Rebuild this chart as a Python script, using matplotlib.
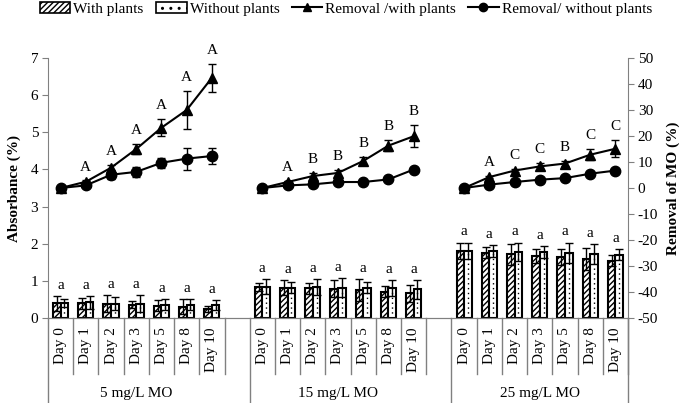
import numpy as np
import matplotlib
matplotlib.use('Agg')
import matplotlib.pyplot as plt
import matplotlib.transforms as mtransforms
from matplotlib.patches import Patch
from matplotlib.lines import Line2D

plt.rcParams['font.family'] = ['Liberation Serif', 'DejaVu Serif']
plt.rcParams['hatch.linewidth'] = 1.0
plt.rcParams['axes.unicode_minus'] = False

days = ['Day 0', 'Day 1', 'Day 2', 'Day 3', 'Day 5', 'Day 8', 'Day 10']
groups = ['5 mg/L MO', '15 mg/L MO', '25 mg/L MO']

# absorbance (left axis)
abs_with = [[0.40, 0.40, 0.39, 0.36, 0.33, 0.30, 0.24],
            [0.84, 0.82, 0.80, 0.79, 0.75, 0.71, 0.66],
            [1.81, 1.76, 1.71, 1.67, 1.65, 1.59, 1.54]]
abs_with_err = [[0.20, 0.15, 0.22, 0.10, 0.15, 0.20, 0.09],
                [0.11, 0.19, 0.15, 0.22, 0.29, 0.14, 0.22],
                [0.22, 0.14, 0.27, 0.18, 0.22, 0.29, 0.15]]
abs_without = [[0.40, 0.42, 0.39, 0.39, 0.36, 0.36, 0.35],
               [0.84, 0.82, 0.83, 0.82, 0.82, 0.81, 0.77],
               [1.81, 1.80, 1.78, 1.78, 1.76, 1.72, 1.70]]
abs_without_err = [[0.10, 0.18, 0.17, 0.22, 0.15, 0.14, 0.13],
                   [0.20, 0.16, 0.22, 0.25, 0.16, 0.22, 0.25],
                   [0.22, 0.16, 0.25, 0.16, 0.27, 0.27, 0.15]]
bar_letters = [['a'] * 7, ['a'] * 7, ['a'] * 7]

# removal of MO (right axis)
rem_with = [[0, 2.4, 7.8, 15.0, 23.2, 30.0, 42.4],
            [0, 2.3, 4.6, 5.8, 10.4, 16.3, 19.9],
            [0, 4.2, 6.7, 8.3, 9.4, 12.8, 15.1]]
rem_with_err = [[0, 0.5, 1.0, 2.0, 3.2, 7.3, 5.3],
                [0, 0.5, 1.2, 1.0, 1.6, 2.0, 4.2],
                [0, 0.5, 0.5, 1.3, 1.0, 2.2, 3.2]]
rem_without = [[0, 1.0, 5.1, 6.2, 9.7, 11.3, 12.3],
               [0, 1.0, 1.4, 2.3, 2.3, 3.3, 7.1],
               [0, 1.3, 2.3, 3.2, 3.8, 5.5, 6.7]]
rem_without_err = [[0, 0.5, 1.6, 2.0, 2.0, 4.2, 3.0],
                   [0, 0.3, 0.5, 0.3, 0.3, 0.3, 0.5],
                   [0, 0.3, 0.3, 0.3, 0.3, 0.3, 0.3]]
rem_letters = [['', 'A', 'A', 'A', 'A', 'A', 'A'],
               ['', 'A', 'B', 'B', 'B', 'B', 'B'],
               ['', 'A', 'C', 'C', 'B', 'C', 'C']]

grey = '#808080'
fs = 11

fig = plt.figure(figsize=(6.85, 4.03), dpi=100)
ax = fig.add_axes([48 / 685, 85 / 403, 580 / 685, 260 / 403])
ax2 = ax.twinx()

nd = len(days)
bw = 0.3
ekw = dict(ecolor='k', elinewidth=1, capsize=3, capthick=1)
for g in range(len(groups)):
    x = np.arange(nd) + g * (nd + 1)
    ax.bar(x - bw / 2, abs_with[g], bw, yerr=abs_with_err[g], facecolor='white',
           edgecolor='k', linewidth=1.5, hatch='//////', error_kw=ekw)
    ax.bar(x + bw / 2, abs_without[g], bw, yerr=abs_without_err[g], facecolor='white',
           edgecolor='k', linewidth=1.5, error_kw=ekw)
    # dotted fill of the "without plants" bars
    ax.vlines(x + bw / 2, 0, abs_without[g], colors='k', linestyles=(0, (1, 2.5)), lw=1)
    for i in range(nd):
        top = max(abs_with[g][i] + abs_with_err[g][i], abs_without[g][i] + abs_without_err[g][i])
        ax.annotate(bar_letters[g][i], (x[i], top), xytext=(0, 3), textcoords='offset points',
                    ha='center', va='bottom', fontsize=fs)

    ax2.errorbar(x, rem_with[g], yerr=rem_with_err[g], fmt='-^', color='k', lw=1.5,
                 ms=7, **ekw)
    ax2.errorbar(x, rem_without[g], yerr=rem_without_err[g], fmt='-o', color='k', lw=1.5,
                 ms=7.5, **ekw)
    for i in range(nd):
        if rem_letters[g][i]:
            top = rem_with[g][i] + rem_with_err[g][i]
            ax2.annotate(rem_letters[g][i], (x[i], top), xytext=(0, 5), textcoords='offset points',
                         ha='center', va='bottom', fontsize=fs)

ax.set_xlim(-0.5, len(groups) * (nd + 1) - 1.5)
ax.set_ylim(0, 7)
ax.set_yticks(range(0, 8))
ax2.set_ylim(-50, 50)
ax2.set_yticks(range(-50, 51, 10))
ax.set_xticks([])

for a in (ax, ax2):
    a.spines['top'].set_visible(False)
    for s in ('left', 'right', 'bottom'):
        a.spines[s].set_color(grey)
    a.tick_params(axis='y', direction='out', length=4, color=grey, labelsize=fs, pad=3)
ax.spines['right'].set_visible(False)
ax2.spines['left'].set_visible(False)

ax.set_ylabel('Absorbance (%)', fontsize=fs, fontweight='bold', labelpad=7)
ax2.set_ylabel('Removal of MO (%)', fontsize=fs, fontweight='bold', labelpad=6)

# multi-level category labels below the axis
trans = mtransforms.blended_transform_factory(ax.transData, ax.transAxes)
for g in range(len(groups)):
    x0 = g * (nd + 1)
    for i in range(nd):
        ax.text(x0 + i, -0.035, days[i], transform=trans, rotation=90,
                ha='center', va='top', fontsize=fs)
        ax.plot([x0 + i + 0.5] * 2, [0, -0.215], transform=trans, color=grey,
                lw=1, clip_on=False)
    ax.plot([x0 - 0.5] * 2, [0, -0.327], transform=trans, color=grey, lw=1, clip_on=False)
    ax.text(x0 + (nd - 1) / 2, -0.29, groups[g], transform=trans, ha='center',
            va='center', fontsize=fs)
ax.plot([len(groups) * (nd + 1) - 1.5] * 2, [0, -0.327], transform=trans, color=grey,
        lw=1, clip_on=False)

handles = [Patch(facecolor='white', edgecolor='k', hatch='//////', lw=1.2),
           Patch(facecolor='white', edgecolor='k', hatch='..', lw=1.2),
           Line2D([], [], color='k', marker='^', lw=1.5, ms=6),
           Line2D([], [], color='k', marker='o', lw=1.5, ms=6)]
labels = ['With plants', 'Without plants', 'Removal /with plants', 'Removal/ without plants']
fig.legend(handles, labels, loc='center', bbox_to_anchor=(0.505, 0.978), ncol=4,
           frameon=False, fontsize=fs, handlelength=2.0, handletextpad=0.2,
           columnspacing=0.8, borderaxespad=0)

fig.savefig('out.png', dpi=100)
